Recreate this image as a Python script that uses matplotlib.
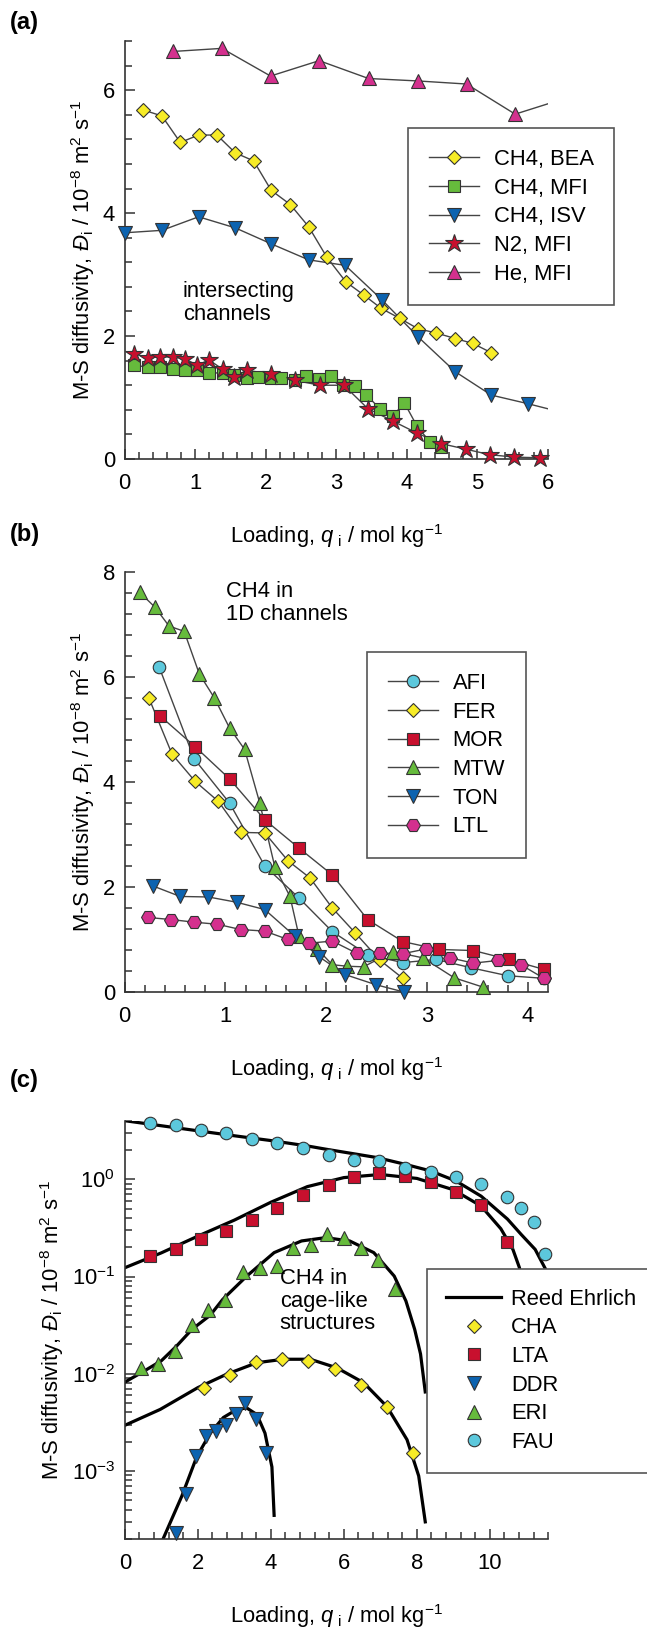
# Three-panel figure: M-S diffusivity of guests in zeolites vs loading.
# Saves out.png (647 x 1627 px).

import matplotlib.pyplot as plt
from matplotlib.lines import Line2D
from matplotlib.ticker import MultipleLocator, LogLocator, NullFormatter

plt.rcParams['font.family'] = ['Liberation Sans', 'DejaVu Sans']
plt.rcParams['mathtext.fontset'] = 'custom'
plt.rcParams['mathtext.rm'] = 'Liberation Sans'
plt.rcParams['mathtext.it'] = 'Liberation Sans:italic'
plt.rcParams['mathtext.bf'] = 'Liberation Sans:bold'
plt.rcParams['font.size'] = 15.8

# ---------------- panel (a): intersecting channels ----------------
bea_x = [0.26, 0.53, 0.79, 1.05, 1.31, 1.57, 1.83, 2.08, 2.35, 2.61, 2.87,
         3.14, 3.39, 3.64, 3.90, 4.16, 4.42, 4.69, 4.94, 5.20]
bea_y = [5.68, 5.58, 5.15, 5.27, 5.27, 4.98, 4.85, 4.37, 4.14, 3.78, 3.28,
         2.88, 2.67, 2.45, 2.29, 2.12, 2.05, 1.96, 1.88, 1.73]

mfi_x = [0.14, 0.33, 0.50, 0.69, 0.85, 1.03, 1.20, 1.39, 1.55, 1.73, 1.89,
         2.07, 2.22, 2.41, 2.58, 2.76, 2.93, 3.10, 3.27, 3.43, 3.62, 3.80,
         3.97, 4.15, 4.33, 4.49]
mfi_y = [1.53, 1.49, 1.49, 1.46, 1.44, 1.44, 1.40, 1.40, 1.37, 1.31, 1.34,
         1.31, 1.31, 1.28, 1.35, 1.30, 1.35, 1.20, 1.18, 1.04, 0.82, 0.70,
         0.91, 0.53, 0.28, 0.19]

isv_x = [0.0, 0.53, 1.05, 1.57, 2.08, 2.61, 3.13, 3.65, 4.16, 4.69, 5.20, 5.72, 6.20]
isv_y = [3.68, 3.72, 3.94, 3.76, 3.50, 3.24, 3.15, 2.59, 1.99, 1.42, 1.04, 0.90, 0.76]

n2_x = [0.14, 0.33, 0.50, 0.69, 0.85, 1.03, 1.20, 1.39, 1.55, 1.73, 2.07,
        2.41, 2.77, 3.11, 3.45, 3.80, 4.15, 4.49, 4.84, 5.18, 5.53, 5.89]
n2_y = [1.71, 1.65, 1.66, 1.66, 1.63, 1.53, 1.61, 1.46, 1.34, 1.44, 1.39,
        1.28, 1.20, 1.20, 0.82, 0.62, 0.42, 0.25, 0.16, 0.07, 0.03, 0.02]

he_x = [0.69, 1.38, 2.07, 2.76, 3.46, 4.16, 4.85, 5.54, 6.23]
he_y = [6.63, 6.68, 6.23, 6.48, 6.19, 6.15, 6.10, 5.61, 5.86]

# ---------------- panel (b): 1D channels ----------------
afi_x = [0.34, 0.69, 1.04, 1.39, 1.73, 2.06, 2.41, 2.76, 3.09, 3.44, 3.80, 4.16]
afi_y = [6.20, 4.44, 3.60, 2.40, 1.79, 1.15, 0.71, 0.56, 0.62, 0.46, 0.31, 0.26]

fer_x = [0.24, 0.47, 0.70, 0.93, 1.15, 1.39, 1.62, 1.84, 2.06, 2.29, 2.53, 2.76]
fer_y = [5.60, 4.53, 4.01, 3.63, 3.04, 3.03, 2.50, 2.17, 1.60, 1.12, 0.61, 0.26]

mor_x = [0.35, 0.70, 1.04, 1.39, 1.73, 2.06, 2.41, 2.76, 3.12, 3.46, 3.81, 4.16]
mor_y = [5.26, 4.67, 4.06, 3.28, 2.74, 2.23, 1.38, 0.96, 0.81, 0.79, 0.62, 0.43]

mtw_x = [0.15, 0.30, 0.44, 0.59, 0.74, 0.89, 1.04, 1.19, 1.34, 1.49, 1.64,
         1.73, 1.91, 2.06, 2.21, 2.37, 2.66, 2.96, 3.27, 3.56]
mtw_y = [7.61, 7.33, 6.97, 6.87, 6.06, 5.60, 5.03, 4.62, 3.60, 2.38, 1.82,
         1.06, 0.82, 0.52, 0.49, 0.48, 0.77, 0.65, 0.27, 0.09]

ton_x = [0.28, 0.55, 0.83, 1.11, 1.39, 1.69, 1.93, 2.19, 2.49, 2.77]
ton_y = [2.02, 1.82, 1.81, 1.71, 1.57, 1.06, 0.67, 0.33, 0.14, 0.0]

ltl_x = [0.23, 0.46, 0.69, 0.92, 1.15, 1.39, 1.62, 1.83, 2.06, 2.30, 2.53,
         2.76, 2.99, 3.23, 3.46, 3.70, 3.93, 4.16]
ltl_y = [1.42, 1.38, 1.33, 1.29, 1.19, 1.16, 1.00, 0.93, 0.97, 0.74, 0.74,
         0.73, 0.82, 0.65, 0.55, 0.60, 0.52, 0.26]

# ---------------- panel (c): cage-like structures ----------------
cha_x = [2.16, 2.87, 3.59, 4.30, 5.03, 5.76, 6.47, 7.18, 7.89]
cha_y = [0.0072, 0.0097, 0.0132, 0.0141, 0.0135, 0.0111, 0.0076, 0.0045, 0.00152]

lta_x = [0.68, 1.39, 2.09, 2.78, 3.48, 4.17, 4.88, 5.58, 6.28, 6.97, 7.67,
         8.38, 9.08, 9.76, 10.48]
lta_y = [0.163, 0.193, 0.245, 0.294, 0.381, 0.511, 0.684, 0.867, 1.065, 1.17,
         1.08, 0.946, 0.747, 0.54, 0.228]

ddr_x = [1.41, 1.68, 1.95, 2.23, 2.50, 2.77, 3.04, 3.30, 3.60, 3.87]
ddr_y = [2.31e-4, 5.75e-4, 1.42e-3, 2.28e-3, 2.57e-3, 2.94e-3, 3.82e-3,
         5.0e-3, 3.39e-3, 1.54e-3]

eri_x = [0.44, 0.92, 1.38, 1.84, 2.29, 2.75, 3.24, 3.69, 4.16, 4.62, 5.09,
         5.55, 6.01, 6.46, 6.93, 7.41]
eri_y = [0.0115, 0.0127, 0.0171, 0.0314, 0.0452, 0.058, 0.111, 0.123, 0.128,
         0.198, 0.209, 0.272, 0.251, 0.198, 0.147, 0.0738]

fau_x = [0.68, 1.39, 2.09, 2.78, 3.48, 4.17, 4.88, 5.58, 6.28, 6.97, 7.67,
         8.38, 9.08, 9.76, 10.48, 10.84, 11.2, 11.52]
fau_y = [3.83, 3.62, 3.22, 2.97, 2.62, 2.38, 2.08, 1.77, 1.57, 1.54, 1.29,
         1.20, 1.06, 0.89, 0.65, 0.51, 0.367, 0.169]

# Reed-Ehrlich model curves
re_fau_x = [0.0, 1.0, 2.0, 3.0, 4.0, 5.0, 5.5, 6.91, 7.66, 8.37, 9.07, 9.76,
            10.48, 10.86, 11.24, 11.52, 11.6]
re_fau_y = [4.0, 3.55, 3.15, 2.8, 2.5, 2.2, 2.04, 1.67, 1.43, 1.22, 0.96, 0.67,
            0.39, 0.27, 0.19, 0.12, 0.05]
re_lta_x = [0.0, 1.0, 2.0, 3.0, 4.0, 5.0, 6.0, 7.0, 8.0, 9.0, 9.76, 10.3,
            10.63, 10.81, 11.0]
re_lta_y = [0.123, 0.175, 0.26, 0.38, 0.58, 0.84, 1.04, 1.12, 1.02, 0.78, 0.53,
            0.31, 0.19, 0.123, 0.03]
re_eri_x = [0.0, 0.5, 1.0, 1.42, 1.84, 2.34, 2.68, 3.34, 4.09, 4.84, 5.5, 6.16,
            6.82, 7.38, 7.70, 7.94, 8.1, 8.23]
re_eri_y = [0.0082, 0.0105, 0.0136, 0.0193, 0.0286, 0.040, 0.058, 0.101, 0.176,
            0.232, 0.251, 0.232, 0.176, 0.101, 0.056, 0.0286, 0.016, 0.0065]
re_cha_x = [0.0, 0.97, 2.0, 2.79, 3.62, 4.35, 5.08, 5.81, 6.54, 7.18, 7.73,
            8.05, 8.23]
re_cha_y = [0.00295, 0.0043, 0.0072, 0.0099, 0.013, 0.0141, 0.0141, 0.0115,
            0.0081, 0.0046, 0.0021, 0.00089, 0.0003]
re_ddr_x = [1.06, 1.56, 1.97, 2.34, 2.70, 3.07, 3.34, 3.62, 3.84, 4.03, 4.09]
re_ddr_y = [2.05e-4, 5.5e-4, 1.4e-3, 2.45e-3, 3.55e-3, 4.3e-3, 4.45e-3, 3.8e-3,
            2.45e-3, 1.1e-3, 3.5e-4]

YELLOW = '#f7ec27'
GREEN = '#66bb3c'
BLUE = '#0c63b0'
RED = '#c8102e'
MAGENTA = '#d4308e'
CYAN = '#5cc8dc'
EDGE = '#333333'
LINE = '#444444'

W, H = 647, 1627
fig = plt.figure(figsize=(W / 100, H / 100), dpi=100)


def px_axes(left, top, right, bottom):
    return fig.add_axes([left / W, 1 - bottom / H, (right - left) / W, (bottom - top) / H])


def style(ax):
    for s in ['top', 'right']:
        ax.spines[s].set_visible(False)
    for s in ['left', 'bottom']:
        ax.spines[s].set_color(EDGE)
        ax.spines[s].set_linewidth(1.2)
    ax.tick_params(which='both', direction='in', color=EDGE, width=1.1)
    ax.tick_params(which='major', length=7)
    ax.tick_params(which='minor', length=5.2)
    ax.tick_params(axis='x', pad=10)
    ax.tick_params(axis='y', pad=7)


def series(ax, x, y, marker, color, ms, xmax):
    ax.plot(x, y, '-', color=LINE, lw=1.0, zorder=2)
    xs = [a for a in x if a <= xmax]
    ys = [b for a, b in zip(x, y) if a <= xmax]
    ax.plot(xs, ys, ls='none', marker=marker, ms=ms, mfc=color, mec=EDGE,
            mew=0.8, clip_on=False, zorder=3)
    return Line2D([], [], color=LINE, lw=1.0, marker=marker, ms=ms, mfc=color,
                  mec=EDGE, mew=0.8)


def legend(handles, labels, left, top, hl, htp, bp):
    fig.legend(handles, labels, loc='upper left',
               bbox_to_anchor=(left / W, 1 - top / H), borderaxespad=0,
               frameon=True, fancybox=False, edgecolor='#555555', framealpha=1,
               handlelength=hl, handletextpad=htp, labelspacing=0.35,
               borderpad=bp).get_frame().set_linewidth(1.2)


ylab = r'M-S diffusivity, $\mathit{Đ}_{\mathrm{i}}$ / 10$^{-8}$ m$^{2}$ s$^{-1}$'
xlab = r'Loading, $q_{\ \mathrm{i}}$ / mol kg$^{-1}$'

# ---- (a)
ax = px_axes(124.6, 41, 547.6, 459)
style(ax)
h = [series(ax, bea_x, bea_y, 'D', YELLOW, 7.6, 6),
     series(ax, mfi_x, mfi_y, 's', GREEN, 8.0, 6),
     series(ax, isv_x, isv_y, 'v', BLUE, 9.5, 6),
     series(ax, n2_x, n2_y, '*', RED, 13.5, 6),
     series(ax, he_x, he_y, '^', MAGENTA, 9.5, 6)]
ax.set_xlim(0, 6)
ax.set_ylim(0, 6.8)
ax.xaxis.set_major_locator(MultipleLocator(1))
ax.xaxis.set_minor_locator(MultipleLocator(0.2))
ax.yaxis.set_major_locator(MultipleLocator(2))
ax.yaxis.set_minor_locator(MultipleLocator(0.4))
ax.set_ylabel(ylab)
ax.set_xlabel(xlab)
ax.xaxis.set_label_coords(0.5, -0.15)
ax.text(0.138, 0.425, 'intersecting\nchannels', transform=ax.transAxes,
        va='top', ha='left', linespacing=1.1)
legend(h, ['CH4, BEA', 'CH4, MFI', 'CH4, ISV', 'N2, MFI', 'He, MFI'],
       408, 128, 2.3, 0.65, 0.95)

# ---- (b)
ax = px_axes(124.7, 572, 548, 992)
style(ax)
h = [series(ax, afi_x, afi_y, 'o', CYAN, 9.0, 4.2),
     series(ax, fer_x, fer_y, 'D', YELLOW, 7.6, 4.2),
     series(ax, mor_x, mor_y, 's', RED, 9.0, 4.2),
     series(ax, mtw_x, mtw_y, '^', GREEN, 9.5, 4.2),
     series(ax, ton_x, ton_y, 'v', BLUE, 9.5, 4.2),
     series(ax, ltl_x, ltl_y, 'H', MAGENTA, 10, 4.2)]
ax.set_xlim(0, 4.2)
ax.set_ylim(0, 8)
ax.xaxis.set_major_locator(MultipleLocator(1))
ax.xaxis.set_minor_locator(MultipleLocator(0.2))
ax.yaxis.set_major_locator(MultipleLocator(2))
ax.yaxis.set_minor_locator(MultipleLocator(0.4))
ax.set_ylabel(ylab)
ax.set_xlabel(xlab)
ax.xaxis.set_label_coords(0.5, -0.15)
ax.text(0.24, 0.978, 'CH4 in\n1D channels', transform=ax.transAxes,
        va='top', ha='left', linespacing=1.1)
legend(h, ['AFI', 'FER', 'MOR', 'MTW', 'TON', 'LTL'], 367, 652, 2.3, 0.65, 0.95)

# ---- (c)
ax = px_axes(124.8, 1120.7, 548.3, 1539)
style(ax)
ax.set_yscale('log')
for cx, cy in [(re_fau_x, re_fau_y), (re_lta_x, re_lta_y), (re_eri_x, re_eri_y),
               (re_cha_x, re_cha_y), (re_ddr_x, re_ddr_y)]:
    ax.plot(cx, cy, '-', color='black', lw=2.3, zorder=2)
mk = [('D', YELLOW, 7.6, cha_x, cha_y), ('s', RED, 9.0, lta_x, lta_y),
      ('v', BLUE, 9.5, ddr_x, ddr_y), ('^', GREEN, 9.5, eri_x, eri_y),
      ('o', CYAN, 9.0, fau_x, fau_y)]
h = [Line2D([], [], color='black', lw=2.3)]
for m, c, s, x, y in mk:
    ax.plot(x, y, ls='none', marker=m, ms=s, mfc=c, mec=EDGE, mew=0.8,
            clip_on=False, zorder=3)
    h.append(Line2D([], [], ls='none', marker=m, ms=s, mfc=c, mec=EDGE, mew=0.8))
ax.set_xlim(0, 11.6)
ax.set_ylim(2e-4, 4)
ax.xaxis.set_major_locator(MultipleLocator(2))
ax.xaxis.set_minor_locator(MultipleLocator(0.4))
ax.yaxis.set_major_locator(LogLocator(base=10, numticks=10))
ax.yaxis.set_minor_locator(LogLocator(base=10, subs=range(2, 10), numticks=20))
ax.yaxis.set_minor_formatter(NullFormatter())
ax.set_ylabel(ylab)
ax.set_xlabel(xlab)
ax.xaxis.set_label_coords(0.5, -0.15)
ax.text(0.366, 0.648, 'CH4 in\ncage-like\nstructures', transform=ax.transAxes,
        va='top', ha='left', linespacing=1.1)
legend(h, ['Reed Ehrlich', 'CHA', 'LTA', 'DDR', 'ERI', 'FAU'],
       426.7, 1269, 2.5, 0.45, 0.9)

for lab, yc in [('(a)', 23), ('(b)', 535), ('(c)', 1080)]:
    fig.text(10 / W, 1 - yc / H, lab, fontweight='bold', fontsize=17,
             ha='left', va='center')

fig.savefig('out.png', dpi=100)
